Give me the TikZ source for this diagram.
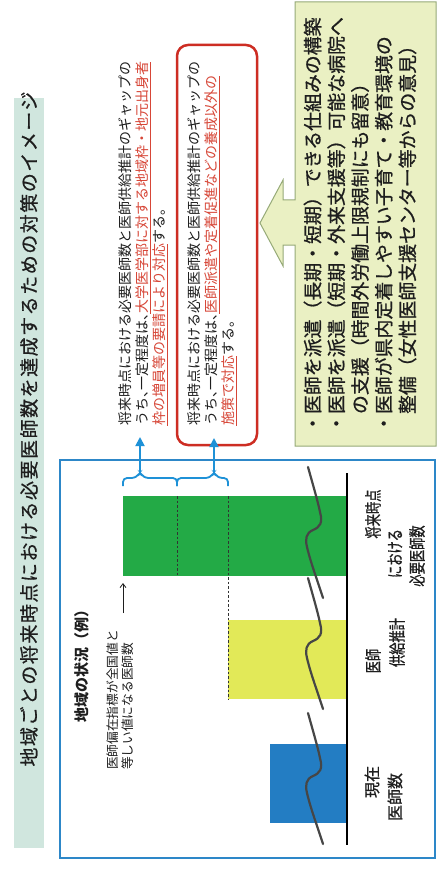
\documentclass[tikz,border=0pt]{standalone}
\usepackage{fontspec}
\setmainfont{Noto Sans CJK JP}
\newfontfamily\condfont{Noto Sans CJK JP}[FakeStretch=0.72,FakeBold=0.8]
\newfontfamily\medfont{Noto Sans CJK JP}[FakeBold=0.8]
\newfontfamily\titlefont{Noto Sans CJK JP}[LetterSpace=8,FakeBold=0.7]
\usetikzlibrary{arrows.meta}
\definecolor{txt}{RGB}{30,30,30}
\definecolor{frameblue}{RGB}{45,135,200}
\definecolor{barblue}{RGB}{35,125,195}
\definecolor{bargreen}{RGB}{35,170,70}
\definecolor{baryellow}{RGB}{226,233,88}
\definecolor{redline}{RGB}{205,45,35}
\definecolor{redtext}{RGB}{215,70,55}
\definecolor{boxfill}{RGB}{234,240,195}
\definecolor{boxline}{RGB}{150,170,120}
\definecolor{titlebg}{RGB}{208,230,222}
\definecolor{arrowblue}{RGB}{30,145,215}
\definecolor{wavegray}{RGB}{70,70,70}
\newcommand{\hc}{\makebox[.5em][l]{、}}
\newcommand{\rl}[1]{{\color{redtext}\underline{#1}}}
\newcommand{\breakseg}[1]{\draw[breakline,shift={(0,#1)}] (308,0) .. controls (313,18) and (318,35) .. (320,45) .. controls (323,56) and (320,60) .. (313,63) .. controls (306,66) and (305,72) .. (307,80) .. controls (311,97) and (318,115) .. (323,131);}
\begin{document}
\begin{tikzpicture}[x=1pt,y=-1pt,
  vtext/.style={rotate=90,inner sep=0pt,outer sep=0pt,text=txt},
  bartext/.style={vtext,font=\condfont\fontsize{17}{22}\selectfont},
  widetext/.style={vtext,font=\medfont\fontsize{16}{22}\selectfont},
  breakline/.style={draw=wavegray,line width=2.2pt,line cap=round},
  brace/.style={draw=arrowblue,line width=1.8pt,rounded corners=4pt},
  uparrow/.style={draw=arrowblue,line width=1.8pt,-{Triangle[length=9pt,width=9pt]}},
  gapline/.style={draw=black!80,line width=0.8pt,dash pattern=on 2.5pt off 2pt},
  thinarrow/.style={draw=txt,line width=0.8pt,-{Straight Barb[length=4pt,width=6pt]}}]
\useasboundingbox (0,0) rectangle (442,893);
\fill[white] (0,0) rectangle (442,893);
% title
\fill[titlebg] (14,98) rectangle (44,848);
\node[vtext,font=\titlefont\fontsize{19}{22}\selectfont] (title) at (29,429) {地域ごとの将来時点における必要医師数を達成するための対策のイメージ};
% yellow box with big arrow
\draw[fill=boxfill,draw=boxline,line width=1pt,line join=miter] (295,2) -- (436,2) -- (436,446) -- (295,446) -- (295,245) -- (283,245) -- (283,266) -- (260,223) -- (283,180) -- (283,200) -- (295,200) -- cycle;
\node[vtext,align=left,font=\medfont\fontsize{18.9}{23.7}\selectfont] (measures) at (360,225) {・医師を派遣（長期・短期）できる仕組みの構築\\・医師を派遣（短期・外来支援等）可能な病院へ\\　の支援（時間外労働上限規制にも留意）\\・医師が県内定着しやすい子育て・教育環境の\\　整備（女性医師支援センター等からの意見）};
% red box
\node[vtext,draw=redline,line width=2.5pt,rounded corners=11pt,minimum width=400pt,minimum height=80pt] (redbox) at (217,245) {};
\node[vtext,align=left,font=\fontsize{14}{17}\selectfont] (block2) at (212,243.5) {将来時点における必要医師数と医師供給推計のギャップの\\うち\hc 一定程度は\hc \rl{医師派遣や定着促進などの養成以外の}\\\rl{施策で対応}する。};
\node[vtext,align=left,font=\fontsize{14}{17}\selectfont] (block1) at (143,243.5) {将来時点における必要医師数と医師供給推計のギャップの\\うち\hc 一定程度は\hc \rl{大学医学部に対する地域枠・地元出身者}\\\rl{枠の増員等の要請により対応}する。};
% chart
\node[vtext,font=\bfseries\fontsize{15}{18}\selectfont] (region) at (82,662) {地域の状況（例）};
\node[vtext,align=left,font=\fontsize{12.7}{15}\selectfont] (note) at (120.5,700) {医師偏在指標が全国値と\\等しい値になる医師数};
\coordinate (notetail) at (123,613);
\coordinate (notehead) at (123,583);
\draw[thinarrow] (notetail) -- (notehead);
\fill[bargreen] (123,496) rectangle (347,576);
\fill[baryellow] (228,620) rectangle (347,699);
\fill[barblue] (270,744) rectangle (347,823);
\draw[gapline] (177,496) -- (177,576);
\draw[gapline] (228,496) -- (228,699);
\draw[black,line width=2pt] (347,473) -- (347,845);
\breakseg{467}
\breakseg{578}
\breakseg{713}
\draw[frameblue,line width=2pt] (60,460) rectangle (435,858);
% braces and arrows
\draw[brace] (123,486) |- (136,478) -- (140,472) -- (144,478) -| (177,486);
\draw[brace] (177,486) |- (210,478) -- (214,472) -- (218,478) -| (228,486);
\coordinate (tip1) at (140,472);
\coordinate (end1) at (140,437);
\coordinate (tip2) at (214,472);
\draw[uparrow] (tip1) -- (end1);
\draw[uparrow,shorten >=-7pt] (tip2) -- (tip2 |- redbox.west);
% bar labels
\node[bartext] (lblA1) at (373,514) {将来時点};
\node[bartext] (lblA2) at (395,553.5) {における};
\node[bartext] (lblA3) at (417,556) {必要医師数};
\node[bartext] (lblB1) at (373,661) {医師};
\node[bartext] (lblB2) at (397,642.5) {供給推計};
\node[widetext] (lblC1) at (372,782) {現在};
\node[widetext] (lblC2) at (395,797) {医師数};
\end{tikzpicture}
\end{document}
